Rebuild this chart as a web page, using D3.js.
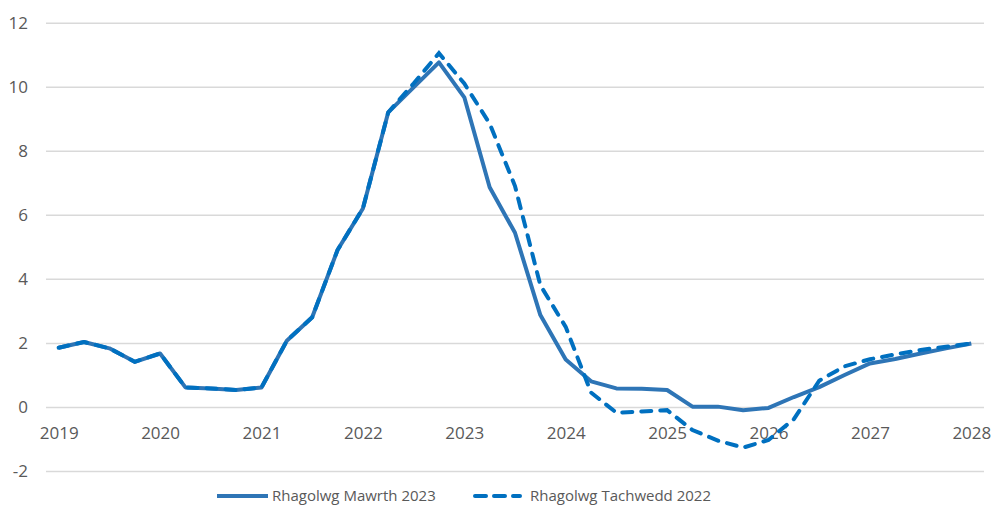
<!DOCTYPE html>
<html>
<head>
<meta charset="utf-8">
<script src="https://cdn.jsdelivr.net/npm/d3@7"></script>
<style>
  body { margin: 0; background: #fff; }
  text { font-family: "Open Sans", "Liberation Sans", sans-serif; fill: #595959; }
</style>
</head>
<body>
<div id="chart"></div>
<script>
// quarters 2019 Q1 .. 2028 Q1
var years = ["2019", "2020", "2021", "2022", "2023", "2024", "2025", "2026", "2027", "2028"];
var quarters = [];
years.forEach(function(yr) {
    ["Q1", "Q2", "Q3", "Q4"].forEach(function(q) {
        if (yr !== "2028" || q === "Q1") quarters.push(yr + " " + q);
    });
});

var seriesNames = ["Rhagolwg Mawrth 2023", "Rhagolwg Tachwedd 2022"];

// March 2023 forecast (solid)
var mawrth2023 = [
    1.85, 2.03, 1.83, 1.41,
    1.67, 0.61, 0.58, 0.53,
    0.61, 2.07, 2.80, 4.90,
    6.20, 9.20, 9.98, 10.76,
    9.67, 6.86, 5.44, 2.87,
    1.48, 0.80, 0.58, 0.57,
    0.53, 0.01, 0.01, -0.10,
    -0.03, 0.31, 0.62, 1.00,
    1.36, 1.50, 1.67, 1.83,
    1.98
];

// November 2022 forecast (dashed)
var tachwedd2022 = [
    1.85, 2.03, 1.83, 1.41,
    1.67, 0.61, 0.58, 0.53,
    0.61, 2.07, 2.80, 4.90,
    6.20, 9.20, 10.10, 11.05,
    10.10, 8.85, 6.90, 3.80,
    2.50, 0.45, -0.18, -0.14,
    -0.10, -0.72, -1.05, -1.27,
    -1.03, -0.38, 0.82, 1.27,
    1.49, 1.64, 1.78, 1.88,
    1.98
];

var yTicks = [-2, 0, 2, 4, 6, 8, 10, 12];

// plot area edges
var width = 994, height = 507;
var plotLeft = 46, plotRight = 984, plotTop = 22.7, plotBottom = 471;

var svg = d3.select("#chart").append("svg")
    .attr("width", width)
    .attr("height", height);

var x = d3.scalePoint()
    .domain(quarters)
    .range([plotLeft, plotRight])
    .padding(0.5);

var y = d3.scaleLinear()
    .domain([-2, 12])
    .range([plotBottom, plotTop]);

// gridlines + y labels (plain hyphen for negatives, like the original)
var yAxis = svg.append("g")
    .attr("transform", "translate(" + plotLeft + ",0)")
    .call(d3.axisLeft(y)
        .tickValues(yTicks)
        .tickFormat(function(d) { return String(d); })
        .tickSize(-(plotRight - plotLeft))
        .tickPadding(18));
yAxis.select(".domain").remove();
yAxis.selectAll("line").attr("stroke", "#d9d9d9").attr("stroke-width", 1.5);
yAxis.selectAll("text").style("font-size", "17px").style("fill", "#595959");

// x labels at zero line
var xAxis = svg.append("g")
    .attr("transform", "translate(0," + y(0) + ")")
    .call(d3.axisBottom(x)
        .tickValues(quarters.filter(function(q) { return q.slice(5) === "Q1"; }))
        .tickFormat(function(q) { return q.slice(0, 4); })
        .tickSize(0)
        .tickPadding(20));
xAxis.select(".domain").remove();
xAxis.selectAll("text").style("font-size", "17px").style("fill", "#595959");

var line = d3.line()
    .x(function(d, i) { return x(quarters[i]); })
    .y(function(d) { return y(d); });

svg.append("path")
    .datum(mawrth2023)
    .attr("fill", "none")
    .attr("stroke", "#2e75b6")
    .attr("stroke-width", 4)
    .attr("stroke-linejoin", "round")
    .attr("d", line);

svg.append("path")
    .datum(tachwedd2022)
    .attr("fill", "none")
    .attr("stroke", "#0070c0")
    .attr("stroke-width", 4)
    .attr("stroke-linecap", "round")
    .attr("stroke-dasharray", "10,9")
    .attr("d", line);

// legend
var legend = svg.append("g");
var ly = 496;
legend.append("line")
    .attr("x1", 217).attr("x2", 268).attr("y1", ly).attr("y2", ly)
    .attr("stroke", "#2e75b6").attr("stroke-width", 4);
legend.append("text")
    .attr("x", 272).attr("y", ly).attr("dy", "0.35em")
    .style("font-size", "15px")
    .text(seriesNames[0]);
legend.append("line")
    .attr("x1", 475).attr("x2", 520).attr("y1", ly).attr("y2", ly)
    .attr("stroke", "#0070c0").attr("stroke-width", 4)
    .attr("stroke-linecap", "round").attr("stroke-dasharray", "11,8");
legend.append("text")
    .attr("x", 530).attr("y", ly).attr("dy", "0.35em")
    .style("font-size", "15px")
    .text(seriesNames[1]);
</script>
</body>
</html>
